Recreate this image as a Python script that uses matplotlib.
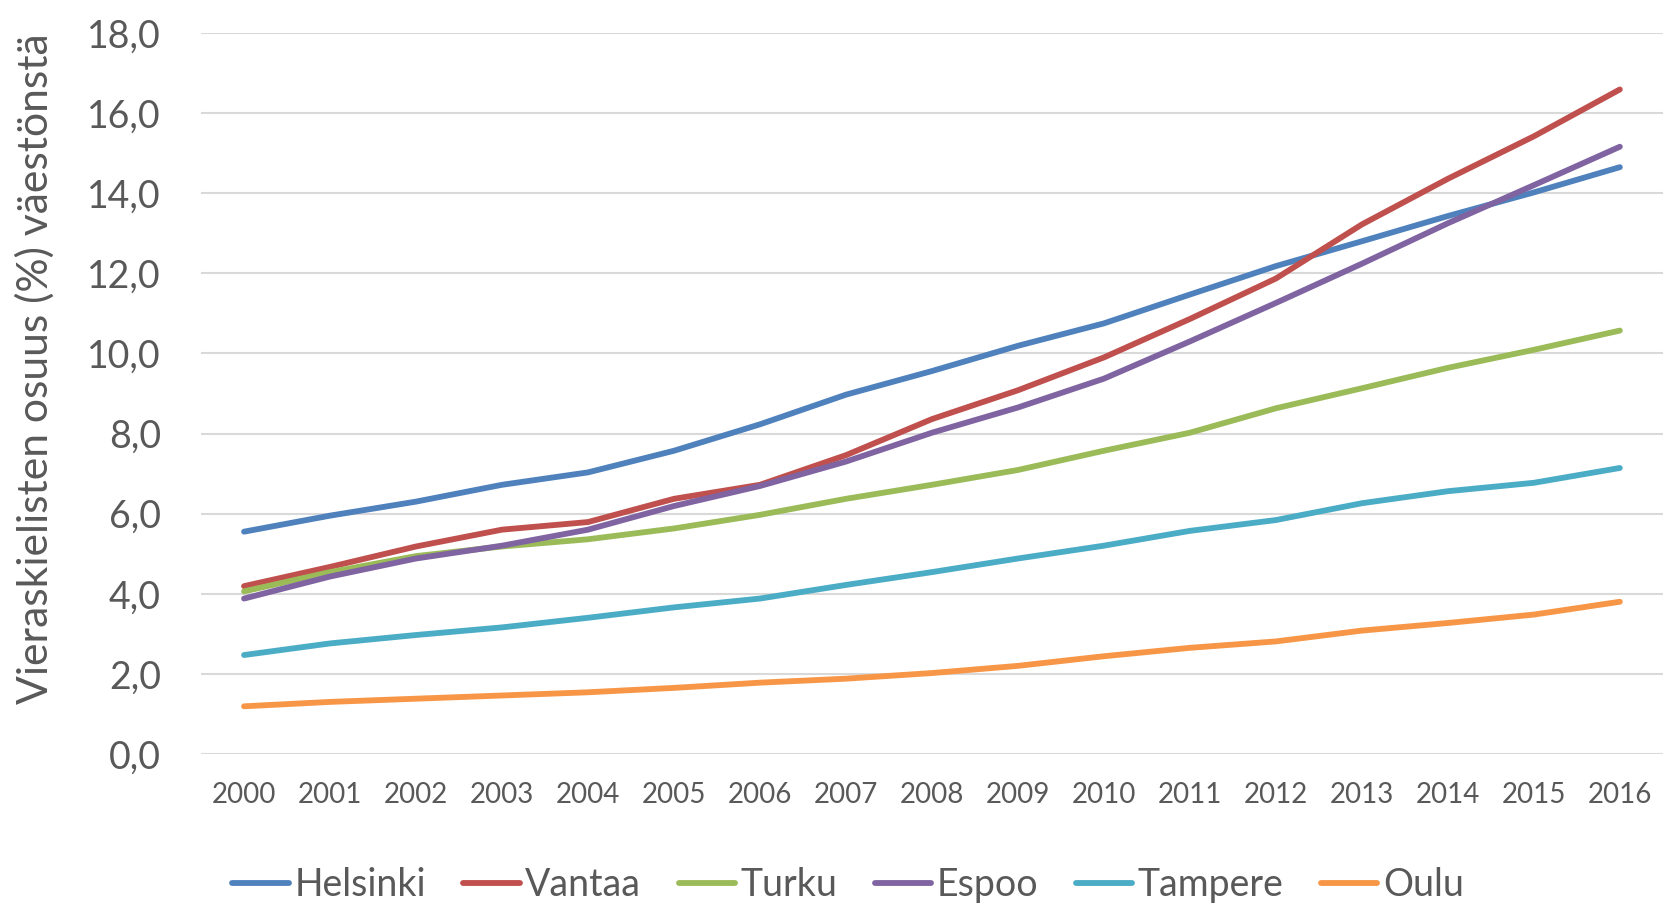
import matplotlib.pyplot as plt
from matplotlib.ticker import FuncFormatter

plt.rcParams["font.family"] = ["Lato", "DejaVu Sans"]

# Data
years = list(range(2000, 2017))
helsinki = [5.55, 5.95, 6.3, 6.72, 7.03, 7.57, 8.23, 8.97, 9.56, 10.19, 10.75, 11.47, 12.18, 12.8, 13.43, 14.02, 14.65]
vantaa = [4.19, 4.67, 5.18, 5.6, 5.79, 6.37, 6.72, 7.46, 8.36, 9.08, 9.9, 10.86, 11.87, 13.22, 14.36, 15.42, 16.59]
turku = [4.06, 4.54, 4.94, 5.18, 5.36, 5.63, 5.97, 6.37, 6.72, 7.09, 7.57, 8.02, 8.63, 9.13, 9.64, 10.09, 10.57]
espoo = [3.88, 4.43, 4.88, 5.2, 5.6, 6.19, 6.69, 7.3, 8.02, 8.65, 9.37, 10.3, 11.26, 12.24, 13.25, 14.2, 15.16]
tampere = [2.47, 2.76, 2.97, 3.16, 3.4, 3.66, 3.88, 4.22, 4.54, 4.88, 5.2, 5.57, 5.84, 6.26, 6.56, 6.77, 7.14]
oulu = [1.19, 1.3, 1.38, 1.46, 1.54, 1.65, 1.78, 1.88, 2.02, 2.2, 2.44, 2.65, 2.81, 3.08, 3.27, 3.48, 3.8]

series = [
    ("Helsinki", helsinki, "#4F81BD"),
    ("Vantaa", vantaa, "#C0504D"),
    ("Turku", turku, "#9BBB59"),
    ("Espoo", espoo, "#8064A2"),
    ("Tampere", tampere, "#4BACC6"),
    ("Oulu", oulu, "#F79646"),
]

text_col = "#595959"

fig = plt.figure(figsize=(16.63, 9.06), dpi=100)
ax = fig.add_axes([0.1209, 0.1678, 0.879, 0.7958])

for name, vals, col in series:
    ax.plot(years, vals, color=col, lw=4.2, label=name,
            solid_capstyle="round", solid_joinstyle="round")

ax.set_xlim(years[0] - 0.5, years[-1] + 0.5)
ax.set_ylim(0, 18)
ax.set_yticks(range(0, 19, 2))
ax.yaxis.set_major_formatter(FuncFormatter(lambda v, p: f"{v:.1f}".replace(".", ",")))
ax.set_xticks(years)

ax.grid(axis="y", color="#D9D9D9", lw=1.5)
ax.set_axisbelow(True)
for s in ax.spines.values():
    s.set_visible(False)
ax.tick_params(axis="y", length=0, pad=29, labelsize=27, labelcolor=text_col)
ax.tick_params(axis="x", length=0, pad=20, labelsize=20, labelcolor=text_col)

fig.text(0.021, 1 - 369 / 906, "Vieraskielisten osuus (%) väestönstä", rotation=90,
         ha="center", va="center", fontsize=30.7, color=text_col)

leg = fig.legend(loc="center", bbox_to_anchor=(0.51, 1 - 885 / 906), ncol=6,
                 frameon=False, fontsize=27, handlelength=1.5, handletextpad=0.15,
                 columnspacing=1.0, labelcolor=text_col)

plt.savefig("out.png", dpi=100)
